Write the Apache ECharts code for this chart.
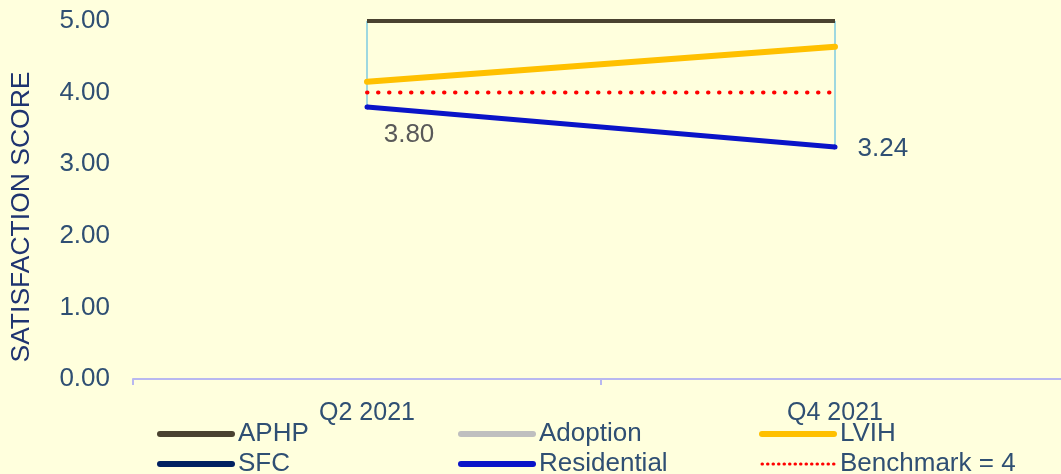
<!DOCTYPE html>
<html><head><meta charset="utf-8">
<script src="https://cdn.jsdelivr.net/npm/echarts@6/dist/echarts.min.js"></script>
<style>html,body{margin:0;padding:0;background:#FFFFDD;}#c{width:1061px;height:474px;}</style>
</head><body><div id="c"></div>
<script>
var categories = ['Q2 2021', 'Q4 2021'];
var aphp = [5.00, 5.00];
var adoption = [5.00, 5.00];
var lvih = [4.15, 4.64];
var sfc = [5.00, 5.00];
var residential = [3.80, 3.24];
var benchmark = [4.00, 4.00];
var yTicks = [0, 1, 2, 3, 4, 5];

var FONT = 'Liberation Sans, Arial, sans-serif';
var TXT = '#2F4F73';

var all = [aphp, adoption, lvih, sfc, residential, benchmark];
var hiLo = categories.map(function (c, i) {
  var vals = all.map(function (a) { return a[i]; });
  return [i, Math.max.apply(null, vals), Math.min.apply(null, vals)];
});

var chart = echarts.init(document.getElementById('c'));
function lg(names, left) {
  return {
    orient: 'vertical', left: left, top: 420, height: 60, padding: 0, itemGap: 2,
    itemWidth: 72, itemHeight: 14,
    textStyle: { fontFamily: FONT, fontSize: 26, lineHeight: 26, color: TXT, padding: [2, 0, 0, 1] },
    lineStyle: { width: 6, cap: 'round' },
    data: names.map(function (n) {
      var d = { name: n, itemStyle: { opacity: 0 } };
      if (n === 'Benchmark = 4') d.lineStyle = { width: 3, type: [0.5, 5], cap: 'round' };
      return d;
    })
  };
}
chart.setOption({
  backgroundColor: '#FFFFDD',
  animation: false,
  grid: { left: 133, width: 936, top: 21, bottom: 95, outerBoundsMode: 'none', containLabel: false },
  legend: [lg(['APHP', 'SFC'], 157), lg(['Adoption', 'Residential'], 458), lg(['LVIH', 'Benchmark = 4'], 759)],
  xAxis: {
    type: 'category', data: categories, boundaryGap: true,
    axisLine: { lineStyle: { color: '#B8B8F0', width: 2 } },
    axisTick: { show: true, length: 6, lineStyle: { color: '#B8B8F0', width: 2 } },
    axisLabel: { fontFamily: FONT, fontSize: 25, color: TXT, margin: 22 }
  },
  yAxis: {
    type: 'value', min: 0, max: 5, interval: 1,
    axisLine: { show: false }, axisTick: { show: false }, splitLine: { show: false },
    axisLabel: { fontFamily: FONT, fontSize: 26, color: TXT, margin: 23,
      formatter: function (v) { return yTicks.indexOf(v) >= 0 ? v.toFixed(2) : ''; } }
  },
  graphic: [{
    type: 'text', x: 22, y: 217, rotation: Math.PI / 2,
    style: { text: 'SATISFACTION SCORE', fontFamily: FONT, fontSize: 26.5, fill: '#1F3470',
      textAlign: 'center', textVerticalAlign: 'middle' }
  }],
  series: [
    { type: 'custom', name: 'hilo', silent: true, z: 1, data: hiLo,
      renderItem: function (params, api) {
        var p1 = api.coord([api.value(0), api.value(1)]);
        var p2 = api.coord([api.value(0), api.value(2)]);
        return { type: 'line', shape: { x1: p1[0], y1: p1[1], x2: p2[0], y2: p2[1] },
          style: { stroke: '#9ED8E0', lineWidth: 2 } };
      } },
    { name: 'SFC', type: 'line', data: sfc, symbol: 'none', z: 2,
      lineStyle: { color: '#002060', width: 4 }, itemStyle: { color: '#002060' } },
    { name: 'Adoption', type: 'line', data: adoption, symbol: 'none', z: 2,
      lineStyle: { color: '#BFBFBF', width: 4 }, itemStyle: { color: '#BFBFBF' } },
    { name: 'APHP', type: 'line', data: aphp, symbol: 'none', z: 3,
      lineStyle: { color: '#4A4230', width: 4 }, itemStyle: { color: '#4A4230' } },
    { name: 'LVIH', type: 'line', data: lvih, symbol: 'none', z: 3,
      lineStyle: { color: '#FFC000', width: 6, cap: 'round' }, itemStyle: { color: '#FFC000' } },
    { name: 'Benchmark = 4', type: 'line', data: benchmark, symbol: 'none', z: 3,
      lineStyle: { color: '#FF0000', width: 4, type: [0.5, 10.5], cap: 'round' }, itemStyle: { color: '#FF0000' } },
    { name: 'Residential', type: 'line', z: 4, symbol: 'circle', symbolSize: 5,
      lineStyle: { color: '#0A14C8', width: 5 }, itemStyle: { color: '#0A14C8' },
      data: [
        { value: residential[0], label: { show: true, position: 'bottom', distance: 6, offset: [42, 6],
          fontFamily: FONT, fontSize: 26, color: '#595959', formatter: function (p) { return p.value.toFixed(2); } } },
        { value: residential[1], label: { show: true, position: 'right', distance: 20, offset: [0, 2],
          fontFamily: FONT, fontSize: 26, color: TXT, formatter: function (p) { return p.value.toFixed(2); } } }
      ] }
  ]
});
</script></body></html>
